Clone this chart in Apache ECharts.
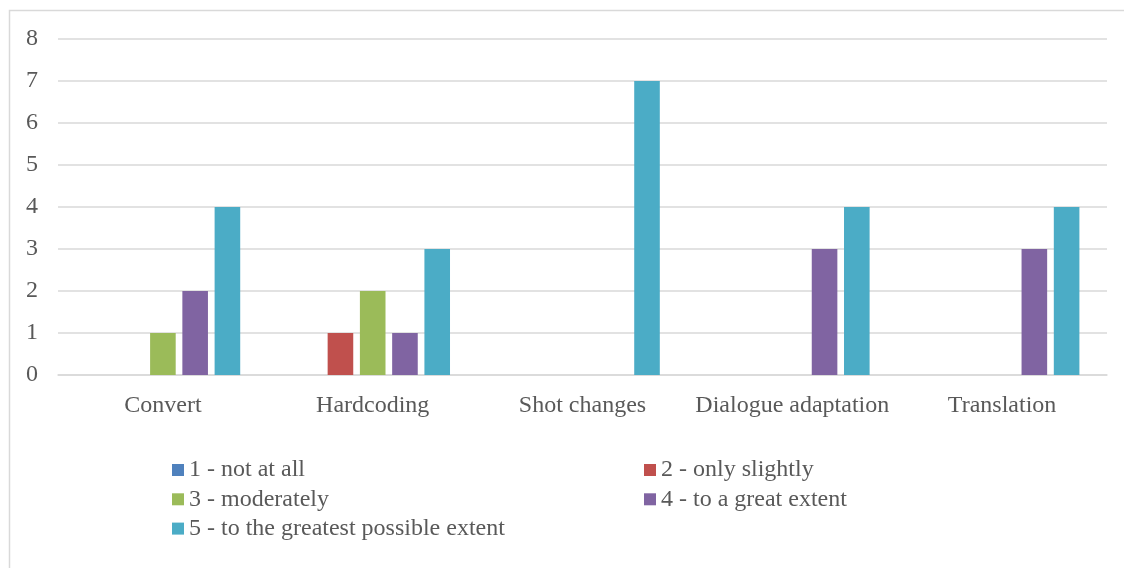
<!DOCTYPE html>
<html>
<head>
<meta charset="utf-8">
<style>
  html, body { margin: 0; padding: 0; background: #ffffff; }
  #chart { width: 1124px; height: 568px; }
</style>
<script src="https://cdn.jsdelivr.net/npm/echarts@6/dist/echarts.min.js"></script>
</head>
<body>
<div id="chart"></div>
<script>
// Task categories along the x axis
const categories = ['Convert', 'Hardcoding', 'Shot changes', 'Dialogue adaptation', 'Translation'];

// Rating scale names (one series per rating)
const seriesNames = [
  '1 - not at all',
  '2 - only slightly',
  '3 - moderately',
  '4 - to a great extent',
  '5 - to the greatest possible extent'
];

// Number of answers per rating, in category order
const notAtAll = [0, 0, 0, 0, 0];
const onlySlightly = [0, 1, 0, 0, 0];
const moderately = [1, 2, 0, 0, 0];
const greatExtent = [2, 1, 0, 3, 3];
const greatestExtent = [4, 3, 7, 4, 4];

const yTicks = [0, 1, 2, 3, 4, 5, 6, 7, 8];

const seriesData = [notAtAll, onlySlightly, moderately, greatExtent, greatestExtent];
const colors = ['#4F81BD', '#C0504D', '#9BBB59', '#8064A2', '#4BACC6'];

const font = '"Liberation Serif", "Times New Roman", serif';
const textColor = '#595959';
const gridColor = '#d9d9d9';

const chart = echarts.init(document.getElementById('chart'), null, { renderer: 'canvas' });

const legendCommon = {
  orient: 'vertical',
  icon: 'rect',
  itemWidth: 12,
  itemHeight: 12,
  itemGap: 5.3,
  padding: 0,
  selectedMode: false,
  textStyle: { fontFamily: font, fontSize: 24, color: textColor, lineHeight: 24 }
};

chart.setOption({
  animation: false,
  color: colors,
  graphic: [{
    type: 'rect',
    silent: true,
    shape: { x: 9.5, y: 10.5, width: 1200, height: 700 },
    style: { fill: 'none', stroke: gridColor, lineWidth: 1.5 }
  }],
  grid: { left: 58, right: 17, top: 39, bottom: 193 },
  legend: [
    Object.assign({ left: 172, top: 458, data: [seriesNames[0], seriesNames[2], seriesNames[4]] }, legendCommon),
    Object.assign({ left: 644, top: 458, data: [seriesNames[1], seriesNames[3]] }, legendCommon)
  ],
  xAxis: {
    type: 'category',
    data: categories,
    axisLine: { show: true, lineStyle: { color: gridColor, width: 1.5 } },
    axisTick: { show: false },
    axisLabel: { fontFamily: font, fontSize: 24, color: textColor, margin: 19, interval: 0 }
  },
  yAxis: {
    type: 'value',
    min: yTicks[0],
    max: yTicks[yTicks.length - 1],
    interval: 1,
    axisLine: { show: false },
    axisTick: { show: false },
    axisLabel: { fontFamily: font, fontSize: 24, color: textColor, margin: 20 },
    splitLine: { lineStyle: { color: gridColor, width: 1.5 } }
  },
  series: seriesNames.map((name, i) => ({
    name: name,
    type: 'bar',
    data: seriesData[i],
    barWidth: 25.6,
    barGap: '26%',
    itemStyle: { color: colors[i] }
  }))
});
</script>
</body>
</html>
